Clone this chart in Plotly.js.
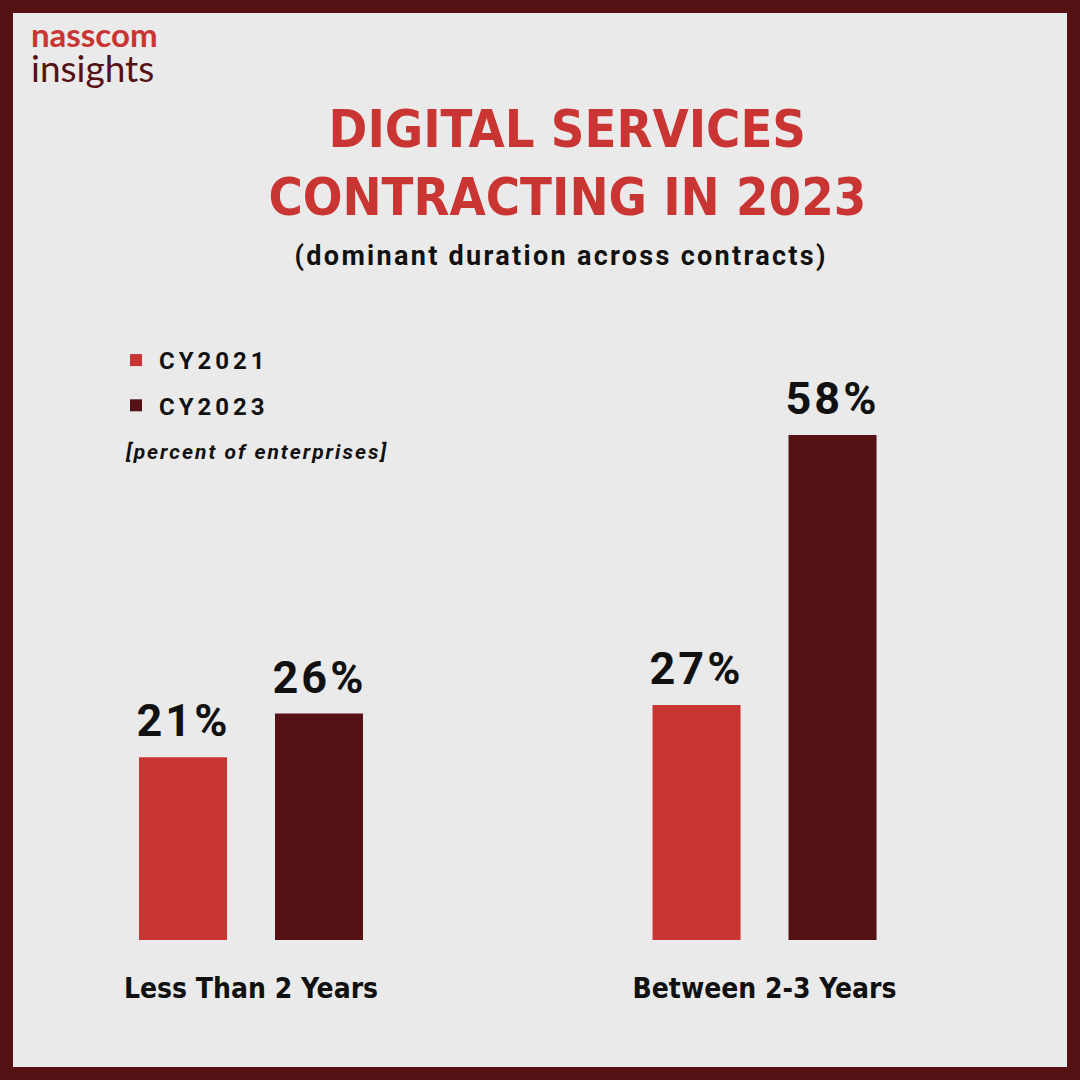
<!DOCTYPE html>
<html>
<head>
<meta charset="utf-8">
<script src="https://cdn.plot.ly/plotly-3.0.1.min.js"></script>
<style>
  html, body { margin: 0; padding: 0; background: #561115; }
  #chart { width: 1080px; height: 1080px; }
  .annotation[data-index="1"] text { letter-spacing: 2.3px; }
  .annotation[data-index="2"] text { letter-spacing: 2px; }
  .annotation[data-index="3"] text,
  .annotation[data-index="4"] text,
  .annotation[data-index="5"] text,
  .annotation[data-index="6"] text { letter-spacing: 3px; }
  .legendtext { letter-spacing: 4px; }
</style>
</head>
<body>
<div id="chart"></div>
<script>
// ---- data ----
const categories = ['Less Than 2 Years', 'Between 2-3 Years'];
const seriesNames = ['CY2021', 'CY2023'];
const cy2021 = [21, 27];
const cy2023 = [26, 58];
const valueLabels2021 = ['21%', '27%'];
const valueLabels2023 = ['26%', '58%'];

// ---- style ----
const RED = '#c93532';
const MAROON = '#561115';
const INK = '#111111';
const BAR_W = 0.1714;
const HALF_SEP = 0.1324;

const traces = [
  {
    type: 'bar', name: seriesNames[0], x: categories, y: cy2021,
    offset: -HALF_SEP - BAR_W / 2, width: BAR_W,
    marker: { color: RED }, legendgroup: 'a', hoverinfo: 'skip'
  },
  {
    type: 'bar', name: seriesNames[1], x: categories, y: cy2023,
    offset: HALF_SEP - BAR_W / 2, width: BAR_W,
    marker: { color: MAROON }, legendgroup: 'b', hoverinfo: 'skip'
  }
];

const W = 1080, M = 13, PW = W - 2 * M;
const px = x => (x - M) / PW;
const py = y => (W - M - y) / PW;

const annotations = [
  { text: '<span style="font-size:33px;color:' + RED + '"><b>nasscom</b></span><br>' +
          '<span style="font-size:37px;color:' + MAROON + '">insights</span>',
    xref: 'paper', yref: 'paper', x: px(29), y: py(52), xanchor: 'left', yanchor: 'middle', align: 'left',
    showarrow: false, font: { family: 'Lato, sans-serif', size: 27, color: MAROON } },
  { text: '(dominant duration across contracts)', xref: 'paper', yref: 'paper', x: px(561), y: py(256),
    xanchor: 'center', yanchor: 'middle', showarrow: false,
    font: { family: 'Roboto, sans-serif', size: 27, color: INK, weight: 'bold' } },
  { text: '[percent of enterprises]', xref: 'paper', yref: 'paper', x: px(147), y: py(452),
    xanchor: 'left', yanchor: 'middle', showarrow: false,
    font: { family: 'Roboto, sans-serif', size: 21, color: INK, weight: 'bold', style: 'italic' } }
];
const labelFont = { family: 'Roboto, sans-serif', size: 45, color: INK, weight: 'bold' };
categories.forEach((c, i) => {
  annotations.push({ text: valueLabels2021[i], xref: 'x', yref: 'y', x: i - HALF_SEP, y: cy2021[i],
    xanchor: 'center', yanchor: 'bottom', yshift: 8, showarrow: false, font: labelFont });
});
categories.forEach((c, i) => {
  annotations.push({ text: valueLabels2023[i], xref: 'x', yref: 'y', x: i + HALF_SEP, y: cy2023[i],
    xanchor: 'center', yanchor: 'bottom', yshift: 8, showarrow: false, font: labelFont });
});

const pxPerUnit = 505 / 58;
const layout = {
  width: 1080, height: 1080,
  margin: { l: M, r: M, t: M, b: M, pad: 0 },
  paper_bgcolor: MAROON,
  plot_bgcolor: '#eaeaea',
  barmode: 'overlay',
  showlegend: true,
  title: {
    text: 'DIGITAL SERVICES<br>CONTRACTING IN 2023',
    x: 568 / 1080, xanchor: 'center', xref: 'paper',
    y: 1 - 147 / 1080, yanchor: 'middle', yref: 'container',
    font: { family: '"DejaVu Sans Condensed", "Noto Sans", sans-serif', size: 52, color: RED, weight: 'bold' }
  },
  legend: {
    x: px(113), y: py(338), xanchor: 'left', yanchor: 'top',
    bgcolor: 'rgba(0,0,0,0)', borderwidth: 0,
    traceorder: 'grouped', tracegroupgap: 11, itemwidth: 36,
    font: { family: 'Roboto, sans-serif', size: 24, color: INK, weight: 'bold' }
  },
  xaxis: {
    type: 'category',
    range: [-0.4635, 1.589],
    showgrid: false, zeroline: false, showline: false, ticks: '',
    ticklabelposition: 'inside', ticklabelstandoff: 60,
    tickfont: { family: '"Liberation Sans Narrow", "DejaVu Sans Condensed", sans-serif', size: 28, color: INK, weight: 'bold' },
    fixedrange: true
  },
  yaxis: {
    range: [-(1067 - 940) / pxPerUnit, (940 - 13) / pxPerUnit],
    visible: false, showgrid: false, zeroline: false, fixedrange: true
  },
  annotations: annotations
};

Plotly.newPlot('chart', traces, layout, { displayModeBar: false, staticPlot: true });
</script>
</body>
</html>
